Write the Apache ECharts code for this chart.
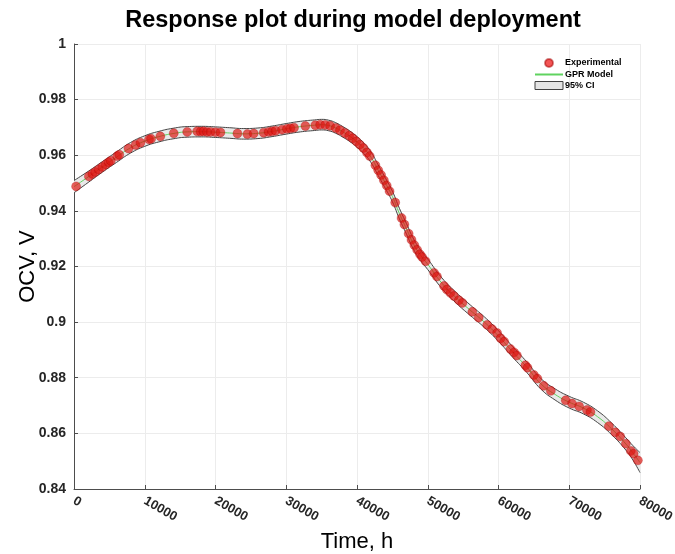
<!DOCTYPE html>
<html>
<head>
<meta charset="utf-8">
<title>Response plot during model deployment</title>
<script src="https://cdn.jsdelivr.net/npm/echarts@6/dist/echarts.min.js"></script>
<style>
  html, body { margin: 0; padding: 0; background: #fff; }
  #chart { width: 675px; height: 554px; }
</style>
</head>
<body>
<div id="chart"></div>
<script>
// GPR mean curve
const gprTime = [0, 2000, 4000, 6000, 8000, 10000, 12000, 14000, 16000, 18000, 20000, 22000, 24000, 26000, 28000, 30000, 32000,
  34000, 35000, 36000, 37000, 38000, 39000, 40000, 41000, 42000, 43000, 44000, 45000, 46000, 47000, 48000, 49000, 50000,
  52000, 54000, 56000, 58000, 60000, 62000, 64000, 66000, 68000, 70000, 72000, 74000, 76000, 78000, 79000, 80000];
const gprOcv = [0.9487, 0.9522, 0.9558, 0.9593, 0.9627, 0.9651, 0.9667, 0.9678, 0.9684, 0.9685, 0.9683, 0.9680, 0.9677, 0.9679, 0.9686, 0.9695, 0.9703,
  0.9708, 0.9710, 0.9707, 0.9698, 0.9684, 0.9668, 0.9648, 0.9624, 0.9592, 0.9546, 0.9500, 0.9452, 0.9390, 0.9335, 0.9280, 0.9240, 0.9208,
  0.9140, 0.9088, 0.9043, 0.9000, 0.8950, 0.8893, 0.8838, 0.8778, 0.8740, 0.8712, 0.8691, 0.8660, 0.8616, 0.8562, 0.8530, 0.8495];
// half width of the 95% band at each gprTime
const ciHalf = [0.0022, 0.0020, 0.0019, 0.0019, 0.0019, 0.0019, 0.0019, 0.0019, 0.0019, 0.0019, 0.0019, 0.0019, 0.0019, 0.0019, 0.0019, 0.0019, 0.0019,
  0.0019, 0.0019, 0.0019, 0.0019, 0.0019, 0.0019, 0.0019, 0.0019, 0.0019, 0.0019, 0.0019, 0.0019, 0.0019, 0.0019, 0.0019, 0.0019, 0.0019,
  0.0019, 0.0019, 0.0019, 0.0019, 0.0019, 0.0019, 0.0019, 0.0019, 0.0020, 0.0021, 0.0021, 0.0021, 0.0021, 0.0022, 0.0026, 0.0036];

// experimental points
const expTime = [300, 2100, 2600, 3000, 3500, 4000, 4500, 4900, 5200, 6100, 6400, 7700, 8700, 9400, 10600, 10900, 12200, 14100, 16000,
  17400, 17900, 18300, 18800, 19300, 20000, 20700, 23100, 24500, 25400, 26800, 27500, 28000, 28500, 29400, 30100, 30600, 31100,
  32700, 34100, 34800, 35500, 36200, 37000, 37600, 38300, 38900, 39400, 39900, 40400, 40900, 41400, 41800, 42600, 43000, 43400,
  43800, 44200, 44600, 45400, 46300, 46700, 47300, 47700, 48100, 48500, 48900, 49200, 49700, 50900, 51300, 52300, 52700, 53200,
  53700, 54400, 54900, 56300, 57200, 58400, 59100, 59800, 60300, 60800, 61700, 62200, 62600, 63800, 64100, 65000, 65500, 66400,
  67400, 69500, 70400, 71400, 72500, 73000, 75600, 76500, 77200, 78000, 78700, 79100, 79700];
const expOcv = [0.9488, 0.9524, 0.9533, 0.9540, 0.9549, 0.9558, 0.9567, 0.9575, 0.9580, 0.9597, 0.9602, 0.9624, 0.9637, 0.9645, 0.9657, 0.9659, 0.9668, 0.9679, 0.9684,
  0.9686, 0.9685, 0.9686, 0.9684, 0.9684, 0.9683, 0.9682, 0.9678, 0.9676, 0.9678, 0.9681, 0.9684, 0.9686, 0.9688, 0.9692, 0.9695, 0.9697, 0.9699,
  0.9705, 0.9708, 0.9710, 0.9709, 0.9706, 0.9698, 0.9690, 0.9680, 0.9670, 0.9661, 0.9650, 0.9638, 0.9626, 0.9610, 0.9597, 0.9564, 0.9546, 0.9529,
  0.9510, 0.9491, 0.9471, 0.9430, 0.9374, 0.9351, 0.9318, 0.9296, 0.9277, 0.9260, 0.9244, 0.9234, 0.9219, 0.9177, 0.9164, 0.9130, 0.9117, 0.9105,
  0.9094, 0.9079, 0.9069, 0.9037, 0.9016, 0.8990, 0.8975, 0.8961, 0.8942, 0.8930, 0.8903, 0.8891, 0.8880, 0.8845, 0.8836, 0.8810, 0.8797, 0.8771,
  0.8753, 0.8719, 0.8707, 0.8697, 0.8684, 0.8677, 0.8626, 0.8604, 0.8589, 0.8563, 0.8537, 0.8527, 0.8503];

const xTicks = [0, 10000, 20000, 30000, 40000, 50000, 60000, 70000, 80000];
const yTicks = [0.84, 0.86, 0.88, 0.9, 0.92, 0.94, 0.96, 0.98, 1];

const FONT = '"Liberation Sans", Arial, Helvetica, sans-serif';
const axisColor = '#4d4d4d';
const gridColor = '#ececec';

const chart = echarts.init(document.getElementById('chart'), null, { renderer: 'canvas' });

// band is drawn as lower edge + stacked width; value first so the stack goes on y
const bandLower = gprTime.map((t, i) => [gprOcv[i] - ciHalf[i], t]);
const bandWidth = gprTime.map((t, i) => [2 * ciHalf[i], t]);

const option = {
  animation: false,
  backgroundColor: '#ffffff',
  textStyle: { fontFamily: FONT },
  title: {
    text: 'Response plot during model deployment',
    left: 348,
    textAlign: 'center',
    top: 4,
    textStyle: { fontFamily: FONT, fontSize: 23.5, fontWeight: 'bold', color: '#000' },
  },
  legend: {
    orient: 'vertical',
    left: 534,
    top: 58,
    itemWidth: 28,
    itemHeight: 8,
    itemGap: 2,
    padding: 0,
    textStyle: { fontFamily: FONT, fontSize: 9, fontWeight: 'bold', color: '#000', padding: [0, 0, 0, -3] },
    data: [
      { name: 'Experimental', icon: 'circle', itemStyle: { color: '#f02a2a' } },
      { name: 'GPR Model', itemStyle: { opacity: 0 } },
      { name: '95% CI', icon: 'rect', itemStyle: { color: '#e4e4e4', borderColor: '#404040', borderWidth: 1 } },
    ],
  },
  grid: { left: 74, right: 35, top: 44, bottom: 65, outerBoundsMode: 'none', containLabel: false },
  xAxis: {
    type: 'value',
    min: 0,
    max: 80000,
    interval: 10000,
    name: 'Time, h',
    nameLocation: 'middle',
    nameGap: 42,
    nameMoveOverlap: false,
    nameTextStyle: { fontFamily: FONT, fontSize: 22, color: '#000' },
    axisLine: { lineStyle: { color: axisColor, width: 1 } },
    axisTick: { show: true, inside: true, length: 4, lineStyle: { color: axisColor } },
    axisLabel: {
      rotate: -30,
      margin: 11,
      color: '#262626',
      fontFamily: FONT,
      fontSize: 13,
      fontWeight: 'bold',
      formatter: (v) => (xTicks.includes(v) ? String(v) : ''),
    },
    splitLine: { show: true, lineStyle: { color: gridColor, width: 1 } },
  },
  yAxis: {
    type: 'value',
    min: 0.84,
    max: 1,
    interval: 0.02,
    name: 'OCV, V',
    nameLocation: 'middle',
    nameGap: 35,
    nameMoveOverlap: false,
    nameTextStyle: { fontFamily: FONT, fontSize: 22, color: '#000' },
    axisLine: { show: true, lineStyle: { color: axisColor, width: 1 } },
    axisTick: { show: true, inside: true, length: 4, lineStyle: { color: axisColor } },
    axisLabel: {
      margin: 8,
      color: '#262626',
      fontFamily: FONT,
      fontSize: 14,
      fontWeight: 'bold',
      formatter: (v) => {
        const r = Math.round(v * 100) / 100;
        return yTicks.includes(r) ? String(r) : '';
      },
    },
    splitLine: { show: true, lineStyle: { color: gridColor, width: 1 } },
  },
  series: [
    {
      name: 'ciLower',
      type: 'line',
      stack: 'ci',
      encode: { x: 1, y: 0 },
      data: bandLower,
      smooth: true,
      symbol: 'none',
      z: 2,
      lineStyle: { color: '#444444', width: 1 },
      itemStyle: { color: '#444444' },
    },
    {
      name: '95% CI',
      type: 'line',
      stack: 'ci',
      encode: { x: 1, y: 0 },
      data: bandWidth,
      smooth: true,
      symbol: 'none',
      z: 1,
      lineStyle: { color: '#444444', width: 1 },
      itemStyle: { color: '#e4e4e4' },
      areaStyle: { color: '#e9e9e9', opacity: 1 },
    },
    {
      name: 'GPR Model',
      type: 'line',
      data: gprTime.map((t, i) => [t, gprOcv[i]]),
      smooth: true,
      symbol: 'none',
      z: 3,
      lineStyle: { color: '#5fd35f', width: 1 },
      itemStyle: { color: '#5fd35f' },
    },
    {
      name: 'Experimental',
      type: 'scatter',
      data: expTime.map((t, i) => [t, expOcv[i]]),
      symbol: 'circle',
      symbolSize: 9,
      z: 4,
      itemStyle: {
        color: 'rgba(222, 20, 16, 0.85)',
        borderColor: 'rgba(160, 0, 0, 0.6)',
        borderWidth: 0.6,
      },
    },
  ],
};

chart.setOption(option);
</script>
</body>
</html>
